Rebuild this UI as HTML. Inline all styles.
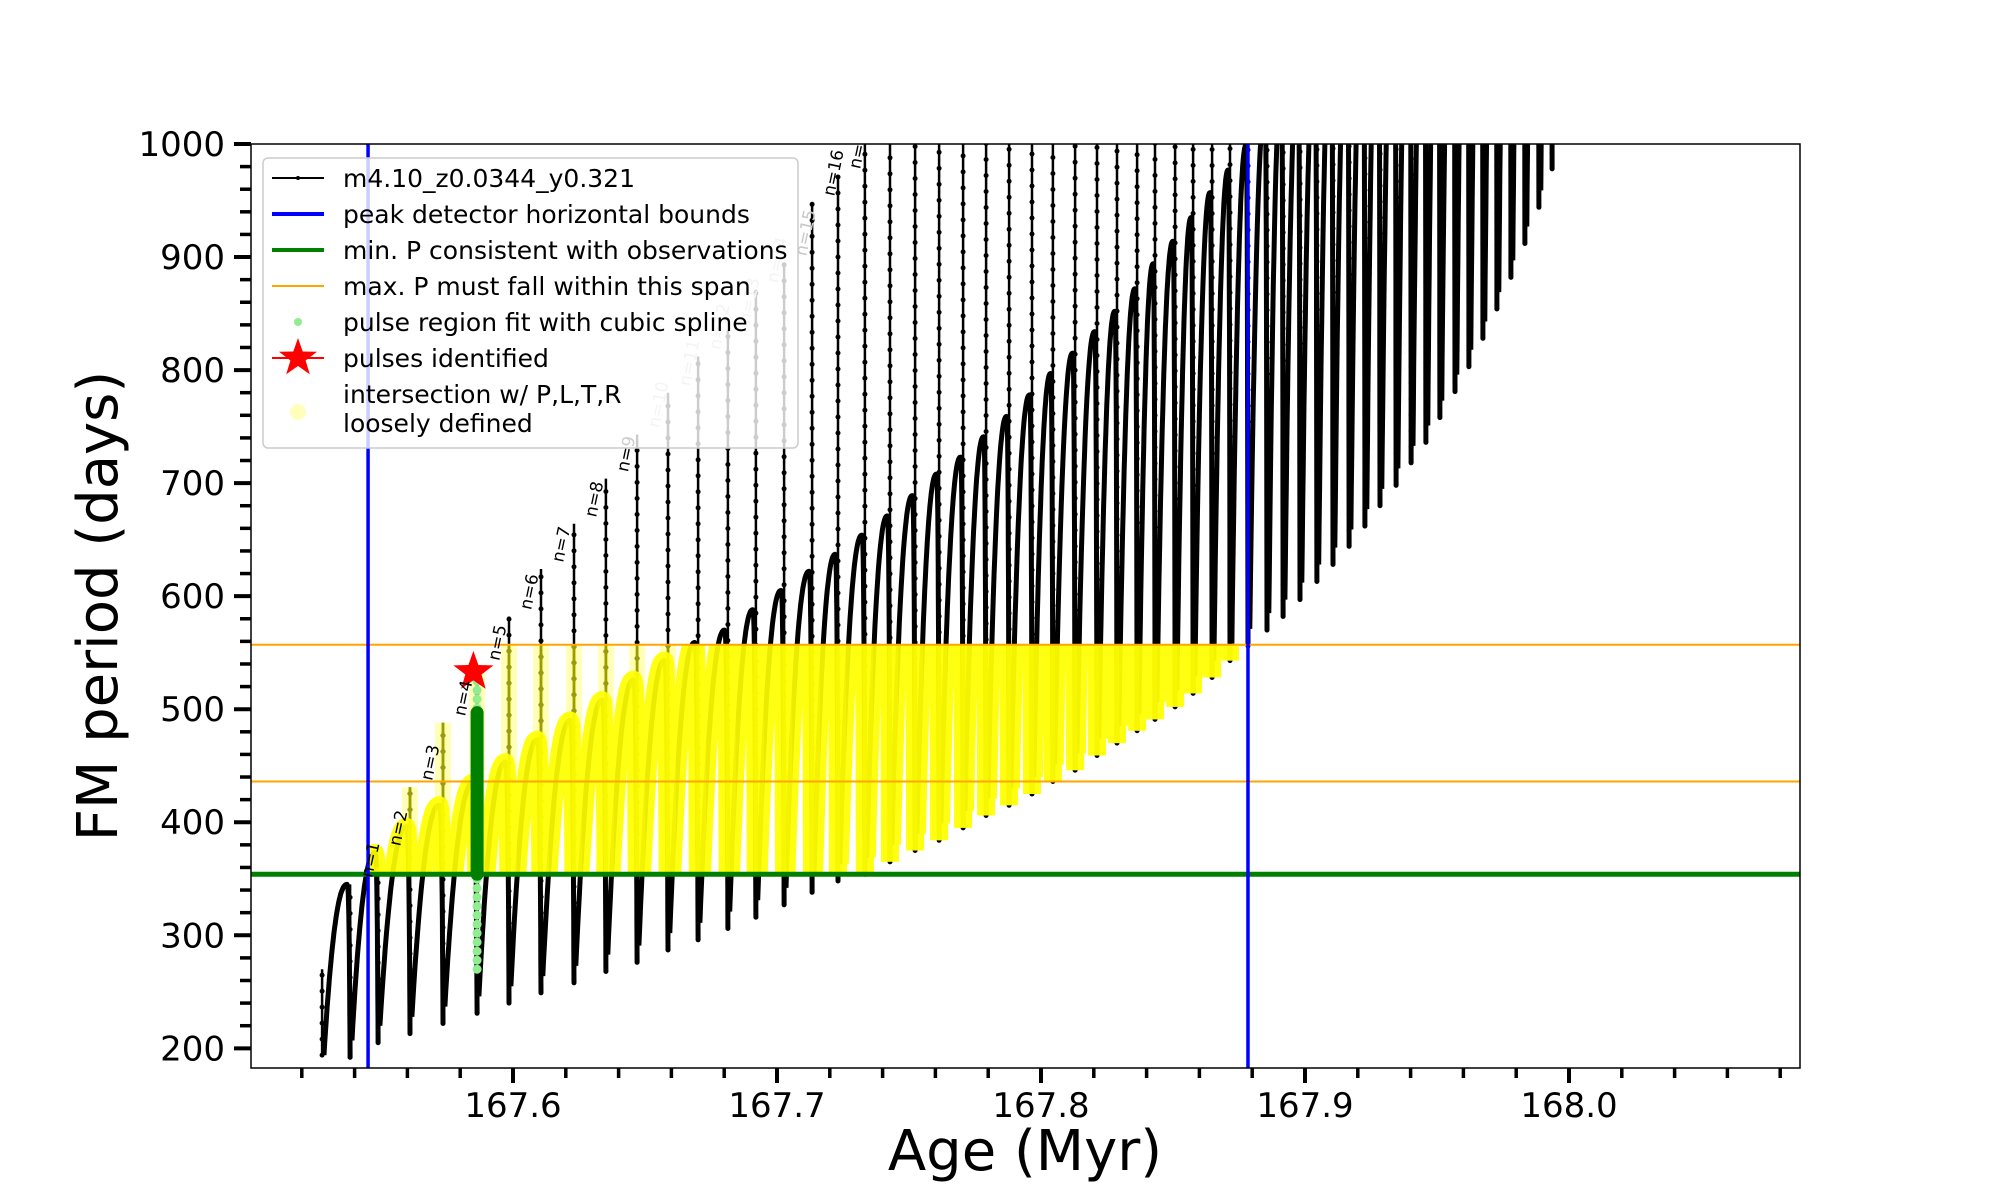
<!DOCTYPE html>
<html><head><meta charset="utf-8"><style>
html,body{margin:0;padding:0;background:#fff;}
svg{display:block;font-family:"DejaVu Sans","Liberation Sans",sans-serif;}
</style></head><body>
<svg id="chart" width="2000" height="1200" viewBox="0 0 2000 1200" xmlns="http://www.w3.org/2000/svg">
<defs><clipPath id="plotclip"><rect x="251" y="144" width="1549" height="924"/></clipPath>
<clipPath id="bandclip"><rect id="bandrect" x="0" y="0" width="0" height="0"/></clipPath></defs>
<g id="plot" clip-path="url(#plotclip)"></g>
<g id="axes"></g>
<g id="legend"></g>
</svg>
<script>
// ---- data ----
const pulseAges=[167.5277,167.5383,167.5489,167.5610,167.5735,167.5864,167.5985,167.6106,167.6231,167.6352,167.6470,167.6587,167.6701,167.6814,167.6920,167.7027,167.7133,167.7231,167.7333,167.7428,167.7523,167.7614,167.7705,167.7792,167.7879,167.7966,167.8045,167.8129,167.8212,167.8288,167.8364,167.8432,167.8508,167.8576,167.8648,167.8716,167.8784,167.8856,167.8917,167.8981,167.9045,167.9106,167.9167,167.9227,167.9284,167.9345,167.9402,167.9458,167.9511,167.9568,167.9621,167.9674,167.9727,167.9780,167.9833,167.9886,167.9936];
const pulseMins=[194,192,205,213,222,231,240,249,258,268,276,287,296,306,316,327,338,348,354,365,375,384,395,406,415,425,436,446,459,470,481,491,502,514,528,543,556,570,582,597,613,628,644,662,680,698,718,736,758,781,803,828,854,882,912,944,978];
const pulsePeaks=[270,345,360,431,488,537,582,624,664,704,743,780,812,835,871,895,948,972,1100,1100,1100,1100,1100,1100,1100,1100,1100,1100,1100,1100,1100,1100,1100,1100,1100,1100,1100,1100,1100,1100,1100,1100,1100,1100,1100,1100,1100,1100,1100,1100,1100,1100,1100,1100,1100,1100,1100];
const archTops=[345,373,396,415,435,453,473,490,508,526,543,559,570,588,605,622,637,654,671,689,708,723,741,759,778,797,815,834,852,872,894,914,935,957,977,999,1030,1050,1070,1090,1110,1130,1150,1170,1190,1210,1230,1250,1270,1290,1310,1330,1350,1370,1390,1410];
const pulseLabels=["","n=1","n=2","n=3","n=4","n=5","n=6","n=7","n=8","n=9","n=10","n=11","n=12","n=13","n=14","n=15","n=16","n=17"];
const blueBounds=[167.5451,167.8784];
const minP=354;
const maxPSpan=[436,557];
const starAge=167.5850, starP=533;
const greenSpan=[354,497], lightGreenSpan=[270,530];
const xTicks=[167.6,167.7,167.8,167.9,168.0];
const yTicks=[200,300,400,500,600,700,800,900,1000];

// ---- axes functions ----
const X0=251,X1=1800,Y0=144,Y1=1068;
const xs=a=>513+(a-167.6)*2640;
const ys=v=>144+(1000-v)*1.1304;
const NS="http://www.w3.org/2000/svg";
function mk(tag,attrs,parent){const e=document.createElementNS(NS,tag);for(const k in attrs)e.setAttribute(k,attrs[k]);parent.appendChild(e);return e;}
const plot=document.getElementById('plot'),axes=document.getElementById('axes'),leg=document.getElementById('legend');

function archPts(i){
  const a0=pulseAges[i]+0.0007,a1=pulseAges[i+1];
  const lo=(i===0?pulseMins[0]:pulseMins[i]+15),top=archTops[i],endv=pulseMins[i+1];
  const pts=[];
  for(let k=0;k<=30;k++){const u=k/30;const v=lo+(top-lo)*(1-Math.pow(1-u,2.2));pts.push([a0+(a1-a0)*0.88*u,v]);}
  for(let k=1;k<=12;k++){const u=k/12;const v=top-(top-endv)*Math.pow(u,1.6);pts.push([a0+(a1-a0)*(0.88+0.12*Math.sqrt(u)),v]);}
  return pts.map(p=>xs(p[0]).toFixed(1)+','+ys(p[1]).toFixed(1)).join(' ');
}
let archD='',spikeD='';
for(let i=0;i<pulseAges.length-1;i++){archD+='M'+archPts(i)+' ';}
for(let i=0;i<pulseAges.length;i++){const x=xs(pulseAges[i]);spikeD+=`M${x.toFixed(1)},${ys(pulseMins[i]).toFixed(1)} L${x.toFixed(1)},${ys(pulsePeaks[i]).toFixed(1)} `;}

const arch=mk('path',{d:archD,fill:'none',stroke:'#000','stroke-width':5,'stroke-linejoin':'round'},plot);


const spk=mk('path',{d:spikeD,fill:'none',stroke:'#000','stroke-width':2.5},plot);


const spkDots=mk('path',{d:spikeD,fill:'none',stroke:'#000','stroke-width':5,'stroke-dasharray':'0 16','stroke-linecap':'round'},plot);



// yellow band highlight
const br=document.getElementById('bandrect');
br.setAttribute('x',xs(blueBounds[0]));br.setAttribute('width',xs(blueBounds[1])-xs(blueBounds[0]));
br.setAttribute('y',ys(maxPSpan[1]));br.setAttribute('height',ys(minP)-ys(maxPSpan[1]));
const yg=mk('g',{'clip-path':'url(#bandclip)'},plot);


mk('path',{d:spikeD,fill:'none',stroke:'#ffff33','stroke-width':16,opacity:0.35},yg);
mk('path',{d:spikeD,fill:'none',stroke:'#dddd00','stroke-width':4,opacity:0.5},yg);
mk('path',{d:archD,fill:'none',stroke:'#ffff00','stroke-width':18,'stroke-linejoin':'round',opacity:0.92},yg);

[maxPSpan[0],maxPSpan[1]].forEach((v,i)=>{const l=mk('line',{x1:X0,x2:X1,y1:ys(v),y2:ys(v),stroke:'orange','stroke-width':2},plot);

});
const gl=mk('line',{x1:X0,x2:X1,y1:ys(minP),y2:ys(minP),stroke:'green','stroke-width':5},plot);


blueBounds.forEach((a,i)=>{const l=mk('line',{x1:xs(a),x2:xs(a),y1:Y0,y2:Y1,stroke:'blue','stroke-width':3.5},plot);

});

const gx=xs(pulseAges[5]);
const lg=mk('line',{x1:gx,x2:gx,y1:ys(lightGreenSpan[0]),y2:ys(lightGreenSpan[1]),stroke:'#90ee90','stroke-width':9,'stroke-dasharray':'0 9','stroke-linecap':'round'},plot);


const dg=mk('line',{x1:gx,x2:gx,y1:ys(greenSpan[0]),y2:ys(greenSpan[1]),stroke:'green','stroke-width':13,'stroke-linecap':'round'},plot);



function starPts(cx,cy,R,r){let p=[];for(let k=0;k<10;k++){const ang=-Math.PI/2+k*Math.PI/5;const rr=k%2?r:R;p.push((cx+rr*Math.cos(ang)).toFixed(1)+','+(cy+rr*Math.sin(ang)).toFixed(1));}return p.join(' ');}
const st=mk('polygon',{points:starPts(xs(starAge),ys(starP),21,8.5),fill:'red'},plot);



for(let i=1;i<pulseLabels.length;i++){
  const x=xs(pulseAges[i])+6,top=Math.max(pulsePeaks[i],i<=2?archTops[i-1]:0);
  const y=ys(Math.min(top,1000));
  const gray=(i>=10&&i<=15);
  const t=mk('text',{x:0,y:0,transform:`translate(${x+16},${y-6}) rotate(-78)`,'font-size':17,fill:gray?'#c8c8c8':'#000'},plot);
  t.textContent=pulseLabels[i];
  
  
}

const fr=mk('rect',{x:X0,y:Y0,width:X1-X0,height:Y1-Y0,fill:'none',stroke:'#000','stroke-width':1.5},axes);


for(let v=200;v<=1000;v+=20){const maj=v%100===0;mk('line',{x1:X0-(maj?17:11),x2:X0,y1:ys(v),y2:ys(v),stroke:'#000','stroke-width':maj?4:3.5},axes);}
yTicks.forEach(v=>{const t=mk('text',{x:225,y:ys(v)+12,'text-anchor':'end','font-size':34},axes);t.textContent=v;

});
for(let k=0;k<=28;k++){const a=167.52+k*0.02;const x=xs(a);if(x>X1)break;const maj=Math.abs((a*10)-Math.round(a*10))<1e-6;mk('line',{x1:x,x2:x,y1:Y1,y2:Y1+(maj?15:10),stroke:'#000','stroke-width':maj?4:3.5},axes);}
xTicks.forEach(a=>{const t=mk('text',{x:xs(a),y:1117,'text-anchor':'middle','font-size':34},axes);t.textContent=a.toFixed(1);

});
const xt=mk('text',{x:1025,y:1170,'text-anchor':'middle','font-size':56},axes);xt.textContent='Age (Myr)';


const yt=mk('text',{x:0,y:0,transform:'translate(117,606) rotate(-90)','text-anchor':'middle','font-size':56},axes);yt.textContent='FM period (days)';



const lb=mk('rect',{x:263,y:158,width:535,height:290,rx:5,fill:'#fff','fill-opacity':0.8,stroke:'#cccccc','stroke-width':1.5},leg);


const entries=[['m4.10_z0.0344_y0.321',178],['peak detector horizontal bounds',214],['min. P consistent with observations',250],['max. P must fall within this span',286],['pulse region fit with cubic spline',322],['pulses identified',358],['intersection w/ P,L,T,R',394],['loosely defined',423]];
entries.forEach((e,i)=>{const t=mk('text',{x:343,y:e[1]+9,'font-size':25},leg);t.textContent=e[0];

});
mk('line',{x1:272,x2:324,y1:178,y2:178,stroke:'#000','stroke-width':2},leg);mk('circle',{cx:298,cy:178,r:2},leg);
mk('line',{x1:272,x2:324,y1:214,y2:214,stroke:'blue','stroke-width':4},leg);
mk('line',{x1:272,x2:324,y1:250,y2:250,stroke:'green','stroke-width':4},leg);
mk('line',{x1:272,x2:324,y1:286,y2:286,stroke:'orange','stroke-width':2},leg);
mk('circle',{cx:298,cy:322,r:4,fill:'#90ee90'},leg);
mk('line',{x1:272,x2:324,y1:358,y2:358,stroke:'red','stroke-width':2},leg);
mk('polygon',{points:starPts(298,358,20,8),fill:'red'},leg);
mk('circle',{cx:298,cy:412,r:8,fill:'#ffffaa',opacity:0.8},leg);
</script>
</body></html>
